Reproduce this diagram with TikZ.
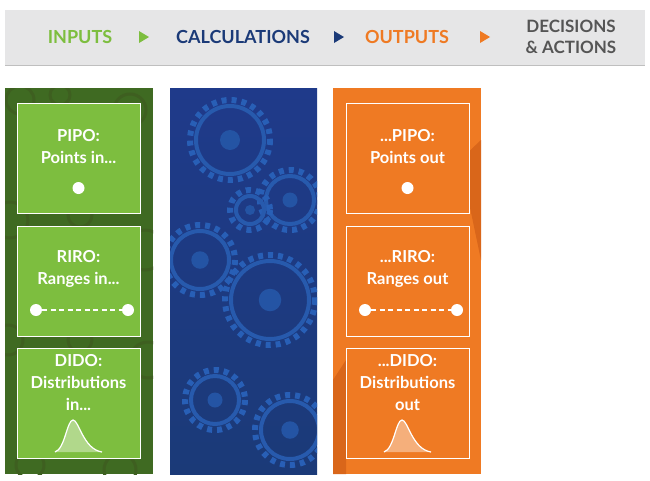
\documentclass[tikz,border=0pt]{standalone}
\usepackage{fontspec}
\setmainfont{Lato}
\definecolor{ggreen}{HTML}{7DBE3F}
\definecolor{dgreen}{HTML}{3F6A22}
\definecolor{gblue}{HTML}{1F3A8A}
\definecolor{lblue}{HTML}{2E6FD0}
\definecolor{gorange}{HTML}{EF7A23}
\definecolor{dorange}{HTML}{D9661A}
\definecolor{navy}{HTML}{1B3A78}
\definecolor{bgray}{HTML}{E6E6E7}
\definecolor{tgray}{HTML}{555555}
\tikzset{
 hdr/.style={font=\fontsize{18}{20}\selectfont\bfseries, align=center},
 tri/.style={fill=#1, draw=none},
 card/.style={draw=white, line width=1pt, fill=#1},
 ctext/.style={text=white, font=\fontsize{16.5}{22}\selectfont\bfseries, align=center},
 wdot/.style={circle, fill=white, inner sep=0pt, minimum size=12pt},
}
\begin{document}
\begin{tikzpicture}[x=1pt,y=-1pt]
\useasboundingbox (0,0) rectangle (650,480);
\fill[white] (0,0) rectangle (650,480);
% banner
\fill[bgray] (5,10) rectangle (645,65);
\draw[gray!50, line width=0.8pt] (5,65.5) -- (645,65.5);
\node[hdr, text=ggreen] (in) at (80,37) {INPUTS};
\node[hdr, text=navy] (calc) at (243,37) {CALCULATIONS};
\node[hdr, text=gorange] (out) at (407,37) {OUTPUTS};
\node[hdr, text=tgray, font=\fontsize{17}{21}\selectfont\bfseries] (dec) at (571,37) {DECISIONS\\\& ACTIONS};
\fill[tri=ggreen] (139,31) -- (149,37) -- (139,43) -- cycle;
\fill[tri=navy] (334,31) -- (344,37) -- (334,43) -- cycle;
\fill[tri=gorange] (480,31) -- (490,37) -- (480,43) -- cycle;
% columns
\begin{scope}
\clip (5,88) rectangle (153,474);
\fill[dgreen] (5,88) rectangle (153,474);
\foreach \cx/\cy/\r in {20/100/14, 60/95/10, 130/110/16, 10/220/18, 145/250/20, 8/340/15, 148/360/18, 30/465/14, 120/470/16, 80/215/12, 80/340/12}
  \draw[ggreen!50!black, line width=3pt] (\cx,\cy) circle (\r);
\end{scope}
\begin{scope}
\clip (170,88) rectangle (317,474);
\shade[top color=gblue, bottom color=navy] (170,88) rectangle (317,474);
\foreach \cx/\cy/\r in {230/140/40, 290/200/30, 200/260/35, 270/300/45, 215/400/30, 290/430/35, 250/210/20}{
  \draw[lblue!70!navy, line width=6pt, dash pattern=on 5pt off 5pt] (\cx,\cy) circle (\r);
  \draw[lblue!60!navy, line width=4pt] (\cx,\cy) circle (\r-6);
  \fill[lblue!50!navy] (\cx,\cy) circle (\r/4);}
\end{scope}
\begin{scope}
\clip (333,88) rectangle (481,474);
\fill[gorange] (333,88) rectangle (481,474);
\fill[dorange] (460,160) -- (481,140) -- (481,260) -- cycle;
\fill[dorange] (333,380) -- (346,360) -- (346,474) -- (333,474) -- cycle;
\end{scope}
% cards
\foreach \x/\nm/\col in {17/g/ggreen, 346/o/gorange}{
  \draw[card=\col] (\x,103) rectangle ++(123,110);
  \draw[card=\col] (\x,226) rectangle ++(123,110);
  \draw[card=\col] (\x,348) rectangle ++(123,110);
}
\node[ctext] (t1) at (78.5,147) {PIPO:\\Points in...};
\node[wdot] (d1) at (78.5,188) {};
\node[ctext] (t2) at (78.5,269) {RIRO:\\Ranges in...};
\node[wdot] (r1a) at (36,310) {};
\node[wdot] (r1b) at (128,310) {};
\draw[white, line width=1.5pt, dash pattern=on 5pt off 3.5pt] (r1a) -- (r1b);
\node[ctext] (t3) at (78.5,383) {DIDO:\\Distributions\\in...};
\node[ctext] (o1) at (407.5,147) {...PIPO:\\Points out};
\node[wdot] (d2) at (407.5,188) {};
\node[ctext] (o2) at (407.5,269) {...RIRO:\\Ranges out};
\node[wdot] (r2a) at (365,310) {};
\node[wdot] (r2b) at (457,310) {};
\draw[white, line width=1.5pt, dash pattern=on 5pt off 3.5pt] (r2a) -- (r2b);
\node[ctext] (o3) at (407.5,383) {...DIDO:\\Distributions\\out};
% distributions
\foreach \bx/\fc in {55/ggreen, 384/gorange}{
  \fill[white, opacity=0.4] (\bx,452) .. controls (\bx+10,449) and (\bx+12,420) .. (\bx+18,420) .. controls (\bx+24,420) and (\bx+28,449) .. (\bx+47,452) -- cycle;
  \draw[white, line width=1.2pt] (\bx,452) .. controls (\bx+10,449) and (\bx+12,420) .. (\bx+18,420) .. controls (\bx+24,420) and (\bx+28,449) .. (\bx+47,452);
}
\end{tikzpicture}
\end{document}
